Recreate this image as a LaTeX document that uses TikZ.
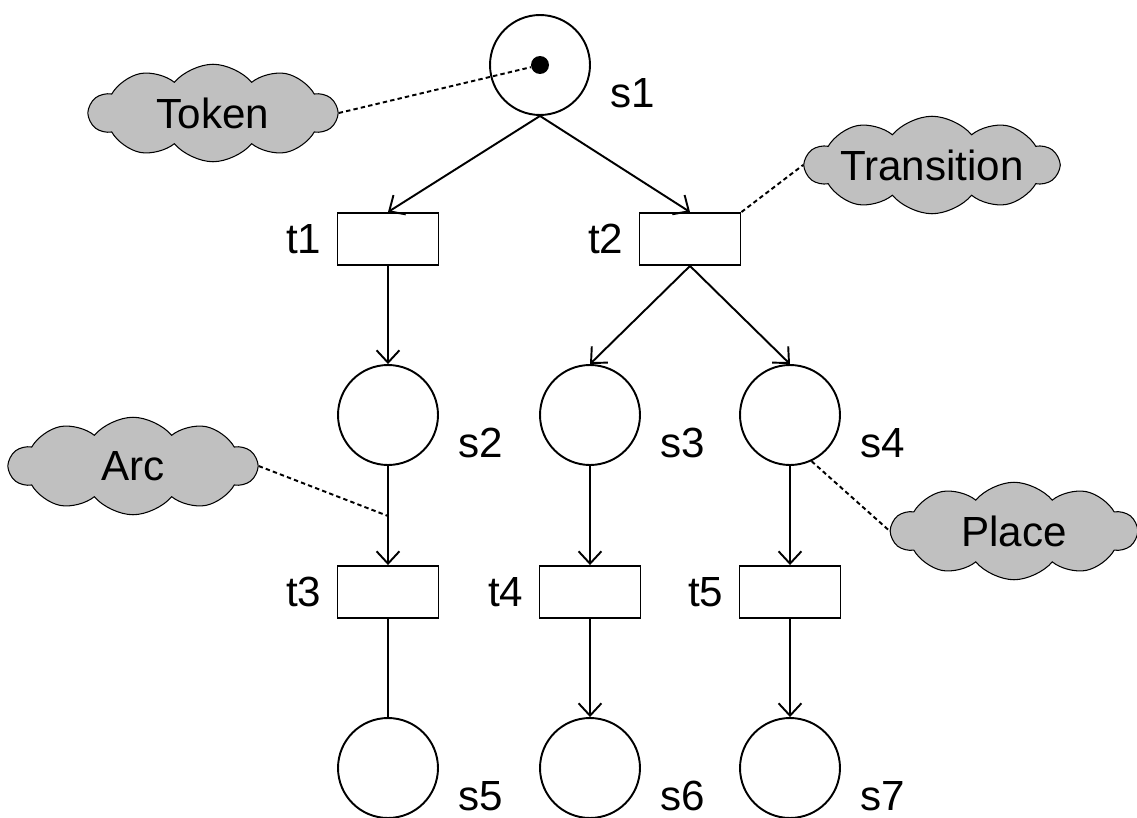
\documentclass[tikz,border=0pt]{standalone}
\usepackage{fontspec}
\setmainfont{Liberation Sans}
\usetikzlibrary{shapes.symbols, arrows.meta, positioning}
\definecolor{cloudgray}{RGB}{192,192,192}

\tikzset{
  place/.style={circle, draw, line width=1.1pt, minimum size=2cm, inner sep=0pt},
  trans/.style={rectangle, draw, line width=1.1pt, minimum width=2.02cm, minimum height=1.04cm, inner sep=0pt},
  flow/.style={line width=1.1pt, -{Straight Barb[length=7pt,width=13pt]}},
  note/.style={cloud, cloud puffs=10, cloud puff arc=100, cloud ignores aspect, draw, line width=0.6pt,
    fill=cloudgray, minimum width=4.95cm, minimum height=1.95cm, inner sep=0pt},
  hint/.style={line width=1.1pt, dash pattern=on 2.5pt off 1.8pt},
  plabel/.style={anchor=west, label distance=0.5cm, inner sep=0pt},
  tlabel/.style={label distance=0.3cm, inner sep=0pt}
}

\begin{document}
\begin{tikzpicture}[x=0.02cm, y=-0.02cm, font=\fontsize{24}{28}\selectfont]
  \useasboundingbox (0,0) rectangle (1137,818);

  %% places
  \node[place, label={[plabel]-22:s1}] (s1) at (540,65) {};
  \node[circle, fill, minimum size=0.36cm, inner sep=0pt] (dot) at (s1) {};
  \node[place, label={[plabel]-22:s2}] (s2) at (388,415) {};
  \node[place, label={[plabel]-22:s3}] (s3) at (590,415) {};
  \node[place, label={[plabel]-22:s4}] (s4) at (790,415) {};
  \node[place, label={[plabel]-22:s5}] (s5) at (388,768) {};
  \node[place, label={[plabel]-22:s6}] (s6) at (590,768) {};
  \node[place, label={[plabel]-22:s7}] (s7) at (790,768) {};

  %% transitions
  \node[trans, label={[tlabel]left:t1}] (t1) at (388,239) {};
  \node[trans, label={[tlabel]left:t2}] (t2) at (690,239) {};
  \node[trans, label={[tlabel]left:t3}] (t3) at (388,592) {};
  \node[trans, label={[tlabel]left:t4}] (t4) at (590,592) {};
  \node[trans, label={[tlabel]left:t5}] (t5) at (790,592) {};

  %% arcs
  \draw[flow] (s1.south) -- (t1.north);
  \draw[flow] (s1.south) -- (t2.north);
  \draw[flow] (t1) -- (s2);
  \draw[flow] (t2.south) -- (s3.north);
  \draw[flow] (t2.south) -- (s4.north);
  \draw[flow] (s2) -- (t3);
  \draw[flow] (s3) -- (t4);
  \draw[flow] (s4) -- (t5);
  \draw[line width=1.1pt] (t3) -- (s5);
  \draw[flow] (t4) -- (s6);
  \draw[flow] (t5) -- (s7);

  %% notes
  \node[note] (token) at (213,113) {Token};
  \node[note, minimum width=4.4cm] (transition) at (932,165) {Transition};
  \node[note] (arcnote) at (133,466) {Arc};
  \node[note, minimum width=4.9cm] (placenote) at (1014,531) {Place};

  \coordinate (arcpt) at (388,516);
  \draw[hint] (token.east) -- (dot);
  \draw[hint] (t2.north east) -- (transition.west);
  \draw[hint] (arcnote.east) -- (arcpt);
  \draw[hint] (s4.-65) -- (placenote.west);
\end{tikzpicture}
\end{document}
